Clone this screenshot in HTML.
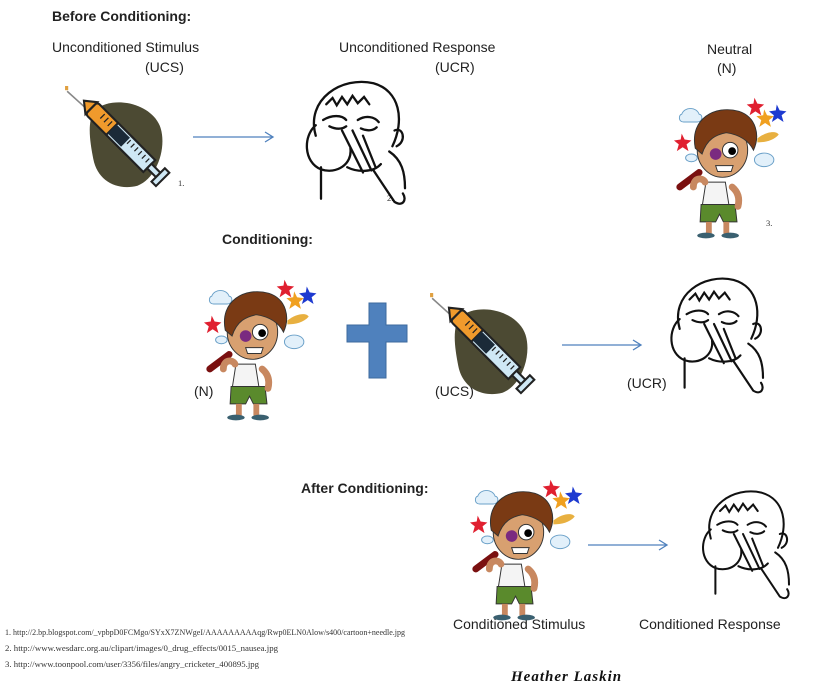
<!DOCTYPE html>
<html><head><meta charset="utf-8"><style>
html,body{margin:0;padding:0;background:#fff;width:825px;height:688px;overflow:hidden}
svg{display:block}
</style></head><body>
<svg width="825" height="688" viewBox="0 0 825 688" xmlns="http://www.w3.org/2000/svg">
<defs>
<g id="syr">
 <path d="M30 22 C50 8 85 18 92 40 C98 60 88 88 70 95 C50 100 32 90 28 70 C24 50 22 32 30 22Z" fill="#4c4a33"/>
 <line x1="3" y1="5" x2="24" y2="24" stroke="#888" stroke-width="1.5"/>
 <rect x="1" y="0" width="3" height="4" fill="#e0a040"/>
 <g transform="rotate(45 60 55)">
  <rect x="12" y="47" width="58" height="16" rx="3" fill="#f09a2c" stroke="#222" stroke-width="2"/>
  <rect x="40" y="47" width="50" height="16" fill="#cfe8f5" stroke="#222" stroke-width="2"/>
  <rect x="40" y="49" width="18" height="12" fill="#1b2a38"/>
  <path d="M60 50v5M65 50v5M70 50v5M75 50v5M80 50v5M85 50v5M25 50v6M30 50v6M35 50v6" stroke="#222" stroke-width="1.2"/>
  <rect x="90" y="52" width="12" height="6" fill="#cfe8f5" stroke="#222" stroke-width="2"/>
  <rect x="102" y="46" width="6" height="18" fill="#cfe8f5" stroke="#222" stroke-width="2"/>
  <path d="M12 47 L2 55 L12 63Z" fill="#f09a2c" stroke="#222" stroke-width="2"/>
 </g>
</g>
<g id="sick" fill="none" stroke="#111" stroke-width="2.2" stroke-linecap="round">
 <path d="M15 55 C5 20 40 -2 70 5 C95 12 100 40 88 65"/>
 <path d="M25 25 l6 -6 l4 7 l5 -8 l5 7 l5 -8 l5 7 l6 -6 l5 7"/>
 <path d="M22 40 c8 -5 18 -5 22 0 M55 40 c8 -5 16 -3 20 2"/>
 <path d="M28 46 c6 3 12 3 16 0 M58 48 c6 3 12 2 15 -1"/>
 <path d="M90 50 c8 -4 12 10 2 15"/>
 <path d="M15 45 c-12 10 -12 35 5 42 c15 5 30 -5 28 -20"/>
 <path d="M40 50 l20 40 M50 50 l18 38 M60 55 l12 30 M45 85 c10 5 25 5 32 -3"/>
 <path d="M20 85 v30 M85 70 c12 8 15 20 15 35 M70 88 l20 30 c8 5 12 -2 8 -8"/>
</g>
<g id="boy">
 <path d="M10 25 c3 -8 15 -8 18 0 c4 0 4 8 -2 8 h-14 c-6 0 -5 -8 -2 -8z" fill="#e2f0fa" stroke="#6aa0c8"/>
 <path d="M10 45 l3 6 7 1 -5 4 2 7 -6 -4 -6 4 2 -7 -5 -4 7 -1z" fill="#e02030"/>
 <path d="M85 8 l3 6 7 1 -5 4 2 7 -6 -4 -6 4 2 -7 -5 -4 7 -1z" fill="#e02030"/>
 <path d="M95 20 l3 6 7 1 -5 4 2 7 -6 -4 -6 4 2 -7 -5 -4 7 -1z" fill="#f0a020"/>
 <path d="M108 15 l3 6 7 1 -5 4 2 7 -6 -4 -6 4 2 -7 -5 -4 7 -1z" fill="#1e3ad0"/>
 <path d="M88 50 c10 -8 20 -8 22 -4 c-5 6 -14 8 -22 8z" fill="#e8b040"/>
 <ellipse cx="95" cy="72" rx="10" ry="7" fill="#e2f0fa" stroke="#6aa0c8"/>
 <ellipse cx="20" cy="70" rx="6" ry="4" fill="#e2f0fa" stroke="#6aa0c8"/>
 <path d="M35 95 h20 l5 32 h-30z" fill="#f4f4f4" stroke="#333"/>
 <path d="M28 85 l-20 15" stroke="#7a1010" stroke-width="7" stroke-linecap="round"/>
 <path d="M30 118 h35 l2 18 h-14 l-4 -8 -4 8 h-16z" fill="#5a8a2c" stroke="#333"/>
 <path d="M22 100 c0 -10 10 -10 12 -5 M62 100 c6 5 8 12 6 20" stroke="#c88860" stroke-width="7" fill="none" stroke-linecap="round"/>
 <path d="M38 136 v12 M56 136 v12" stroke="#c88860" stroke-width="6"/>
 <ellipse cx="35" cy="150" rx="9" ry="3" fill="#3a6070"/>
 <ellipse cx="60" cy="150" rx="9" ry="3" fill="#3a6070"/>
 <ellipse cx="52" cy="62" rx="26" ry="28" fill="#d8a070" stroke="#333"/>
 <path d="M24 60 c-6 -30 20 -45 45 -38 c18 6 22 25 15 40 c-5 -10 -15 -16 -28 -18 c-10 2 -20 6 -25 22z" fill="#7a3a14" stroke="#333"/>
 <circle cx="60" cy="62" r="8" fill="#fff" stroke="#333"/>
 <circle cx="62" cy="63" r="4" fill="#000"/>
 <circle cx="45" cy="66" r="6" fill="#7a2a80"/>
 <path d="M45 78 h18 l-2 6 h-14z" fill="#fff" stroke="#333"/>
</g>
</defs>

<g font-family="Liberation Sans, sans-serif" font-size="14" fill="#222">
 <text x="52" y="21" font-weight="bold" font-size="14">Before Conditioning:</text>
 <text x="52" y="52">Unconditioned Stimulus</text>
 <text x="145" y="72">(UCS)</text>
 <text x="339" y="52">Unconditioned Response</text>
 <text x="435" y="72">(UCR)</text>
 <text x="707" y="54">Neutral</text>
 <text x="717" y="73">(N)</text>
 <text x="222" y="244" font-weight="bold">Conditioning:</text>
 <text x="194" y="396">(N)</text>
 <text x="435" y="396">(UCS)</text>
 <text x="627" y="388">(UCR)</text>
 <text x="301" y="493" font-weight="bold">After Conditioning:</text>
 <text x="453" y="629">Conditioned Stimulus</text>
 <text x="639" y="629">Conditioned Response</text>
</g>
<g font-family="Liberation Serif, serif" font-size="8.5" fill="#333">
 <text x="178" y="186">1.</text><text x="387" y="201">2.</text><text x="766" y="226">3.</text>
 <text x="5" y="635" textLength="400" lengthAdjust="spacingAndGlyphs">1. http://2.bp.blogspot.com/_vpbpD0FCMgo/SYxX7ZNWgeI/AAAAAAAAAqg/Rwp0ELN0Alow/s400/cartoon+needle.jpg</text>
 <text x="5" y="651" textLength="273" lengthAdjust="spacingAndGlyphs">2. http://www.wesdarc.org.au/clipart/images/0_drug_effects/0015_nausea.jpg</text>
 <text x="5" y="667" textLength="254" lengthAdjust="spacingAndGlyphs">3. http://www.toonpool.com/user/3356/files/angry_cricketer_400895.jpg</text>
</g>
<text x="511" y="681" font-family="Liberation Serif, serif" font-style="italic" font-weight="bold" font-size="15" fill="#111" letter-spacing="1">Heather Laskin</text>

<g transform="translate(64,86) scale(1.05)"><use href="#syr"/></g>
<g transform="translate(429,293) scale(1.05)"><use href="#syr"/></g>
<g transform="translate(300,78) scale(1.05)"><use href="#sick"/></g>
<g transform="translate(665,275) scale(0.98)"><use href="#sick"/></g>
<g transform="translate(697,488) scale(0.92)"><use href="#sick"/></g>
<g transform="translate(672,90) scale(0.97)"><use href="#boy"/></g>
<g transform="translate(202,272) scale(0.97)"><use href="#boy"/></g>
<g transform="translate(468,472) scale(0.97)"><use href="#boy"/></g>

<g stroke="#4f81bd" stroke-width="1.3" fill="none">
 <path d="M193 137 H272 M265 132 L273 137 L265 142"/>
 <path d="M562 345 H640 M633 340 L641 345 L633 350"/>
 <path d="M588 545 H666 M659 540 L667 545 L659 550"/>
</g>
<path d="M369 303 h17 v22 h21 v17 h-21 v36 h-17 v-36 h-22 v-17 h22z" fill="#4f81bd" stroke="#3c6a9e"/>
</svg>
</body></html>
